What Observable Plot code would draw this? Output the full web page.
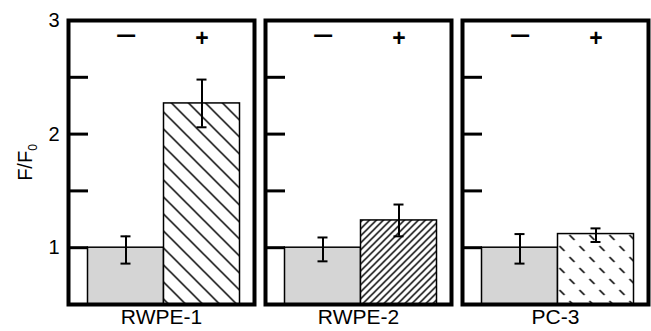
<!DOCTYPE html>
<html><head><meta charset="utf-8">
<script src="https://cdn.jsdelivr.net/npm/d3@7"></script>
<script src="https://cdn.jsdelivr.net/npm/@observablehq/plot@0.6"></script>
<style>
body{margin:0;background:#fff;}
#chart svg{display:block;}
</style>
</head><body>
<svg width="0" height="0" style="position:absolute">
<defs>
  <pattern id="stipple" width="2" height="2" patternUnits="userSpaceOnUse">
    <rect width="2" height="2" fill="#ececec"/>
    <rect width="1" height="1" fill="#bdbdbd"/>
    <rect x="1" y="1" width="1" height="1" fill="#bdbdbd"/>
  </pattern>
  <pattern id="backslash" width="17" height="17" patternUnits="userSpaceOnUse">
    <rect width="17" height="17" fill="#fff"/>
    <path d="M-2,-2 L19,19 M-2,15 L2,19 M15,-2 L19,2" stroke="#000" stroke-width="1.5"/>
  </pattern>
  <pattern id="slash" width="7" height="7" patternUnits="userSpaceOnUse">
    <rect width="7" height="7" fill="#fff"/>
    <path d="M-1,8 L8,-1 M-2,2 L2,-2 M5,9 L9,5" stroke="#000" stroke-width="1.5"/>
  </pattern>
  <pattern id="dashes" width="20" height="22" patternUnits="userSpaceOnUse" x="3" y="2">
    <rect width="20" height="22" fill="#fff"/>
    <path d="M2,2 L7,7 M12,13 L17,18" stroke="#000" stroke-width="1.6"/>
  </pattern>
</defs>
</svg>
<div id="chart"></div>
<script>
// ---- data ----
const cells = ["RWPE-1", "RWPE-2", "PC-3"];
const treatments = ["−", "+"];
const meanMinus = [1.00, 1.00, 1.00];
const meanPlus = [2.27, 1.24, 1.12];
const loMinus = [0.86, 0.88, 0.86];
const hiMinus = [1.10, 1.09, 1.12];
const loPlus = [2.06, 1.10, 1.05];
const hiPlus = [2.48, 1.38, 1.17];
const yDomain = [0.5, 3];
const yTickLabels = [1, 2, 3];
const yTickMarks = [1, 1.5, 2, 2.5];

// ---- styles ----
const plusPattern = {"RWPE-1": "backslash", "RWPE-2": "slash", "PC-3": "dashes"};
const fillFor = d => d.treatment === "−" ? "url(#stipple)" : `url(#${plusPattern[d.cell]})`;

const rows = cells.flatMap((c, i) => [
  {cell: c, treatment: treatments[0], mean: meanMinus[i], lo: loMinus[i], hi: hiMinus[i]},
  {cell: c, treatment: treatments[1], mean: meanPlus[i], lo: loPlus[i], hi: hiPlus[i]}
]);

const chart = Plot.plot({
  width: 651, height: 331,
  marginLeft: 67.5, marginRight: 3.5, marginTop: 20, marginBottom: 27,
  style: {fontFamily: "'Liberation Sans', Arial, sans-serif", fontSize: "20px", color: "#000", background: "#fff"},
  fx: {domain: cells, paddingInner: 0.056, paddingOuter: 0, label: null},
  x: {domain: treatments, paddingInner: 0, paddingOuter: 0.216, align: 0.576, axis: null},
  y: {domain: yDomain, axis: null},
  color: {type: "identity"},
  marks: [
    Plot.barY(rows, {fx: "cell", x: "treatment", y1: yDomain[0], y2: "mean", fill: fillFor, stroke: "#000", strokeWidth: 1.5}),
    Plot.ruleX(rows, {fx: "cell", x: "treatment", y1: "lo", y2: "hi", stroke: "#000", strokeWidth: 2}),
    Plot.tickY(rows, {fx: "cell", x: "treatment", y: "lo", insetLeft: 33, insetRight: 33, stroke: "#000", strokeWidth: 2}),
    Plot.tickY(rows, {fx: "cell", x: "treatment", y: "hi", insetLeft: 33, insetRight: 33, stroke: "#000", strokeWidth: 2}),
    Plot.tickY(yTickMarks, {y: d => d, insetRight: 166, stroke: "#000", strokeWidth: 3}),
    Plot.frame({stroke: "#000", strokeWidth: 4}),
    Plot.text(rows.filter(d => d.treatment === treatments[0]), {fx: "cell", x: "treatment", text: "treatment",
      frameAnchor: "top", lineAnchor: "middle", dy: 16, fontSize: 37, fill: "#000"}),
    Plot.text(rows.filter(d => d.treatment === treatments[1]), {fx: "cell", x: "treatment", text: "treatment",
      frameAnchor: "top", lineAnchor: "middle", dy: 18, fontSize: 23, fontWeight: "bold", fill: "#000"}),
    Plot.axisY({ticks: yTickLabels, tickFormat: d => String(d), tickSize: 0, tickPadding: 9, fontSize: 20,
      label: "F/F0", labelAnchor: "center", labelArrow: "none", labelOffset: 51}),
    Plot.axisFx({anchor: "bottom", tickSize: 0, tickPadding: 5, fontSize: 21, label: null})
  ]
});
document.getElementById("chart").appendChild(chart);

// subscript 0 in the y label
d3.select(chart).selectAll("g[aria-label='y-axis label'] text").each(function() {
  const t = d3.select(this);
  t.text("F/F");
  t.append("tspan").attr("font-size", 12).attr("dy", "0.45em").text("0");
});
</script>
</body></html>
